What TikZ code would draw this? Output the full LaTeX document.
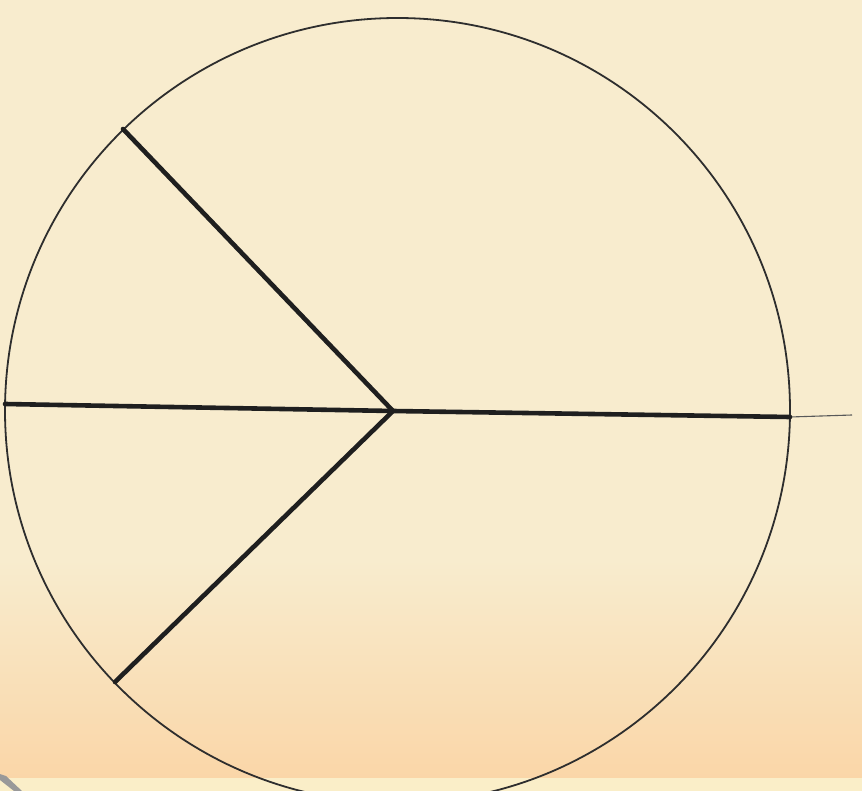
\documentclass[tikz,border=0pt]{standalone}
\begin{document}
\begin{tikzpicture}[x=1pt,y=-1pt,
  thickline/.style={line width=4.6pt,draw=black!88,line cap=round},
  rim/.style={line width=1.8pt,draw=black!82},
  thinline/.style={line width=1.1pt,draw=black!65}]
\definecolor{paper}{RGB}{248,236,206}
\definecolor{paperlow}{RGB}{250,214,168}
\definecolor{paperedge}{RGB}{250,238,200}
\useasboundingbox (0,0) rectangle (862,791);
\fill[paper] (0,0) rectangle (862,791);
\shade[top color=paper,bottom color=paperlow] (0,560) rectangle (862,778);
\fill[paperedge] (0,778) rectangle (862,791);
\fill[black!40] (0,774) -- (6,776) -- (22,791) -- (14,791) -- (0,780) -- cycle;
\coordinate (O) at (397.5,410.5);
\coordinate (C) at (393,411);
\coordinate (U) at (123,129);
\coordinate (L) at (5,404);
\coordinate (D) at (115,682);
\coordinate (R) at (790,417);
\coordinate (E) at (852,415);
\begin{scope}
\clip (0,0) rectangle (862,791);
\draw[rim] (O) circle (392.5);
\end{scope}
\draw[thinline] (R) -- (E);
\draw[thickline] (U) -- (C);
\draw[thickline] (D) -- (C);
\draw[thickline] (L) -- (C) -- (R);
\end{tikzpicture}
\end{document}
